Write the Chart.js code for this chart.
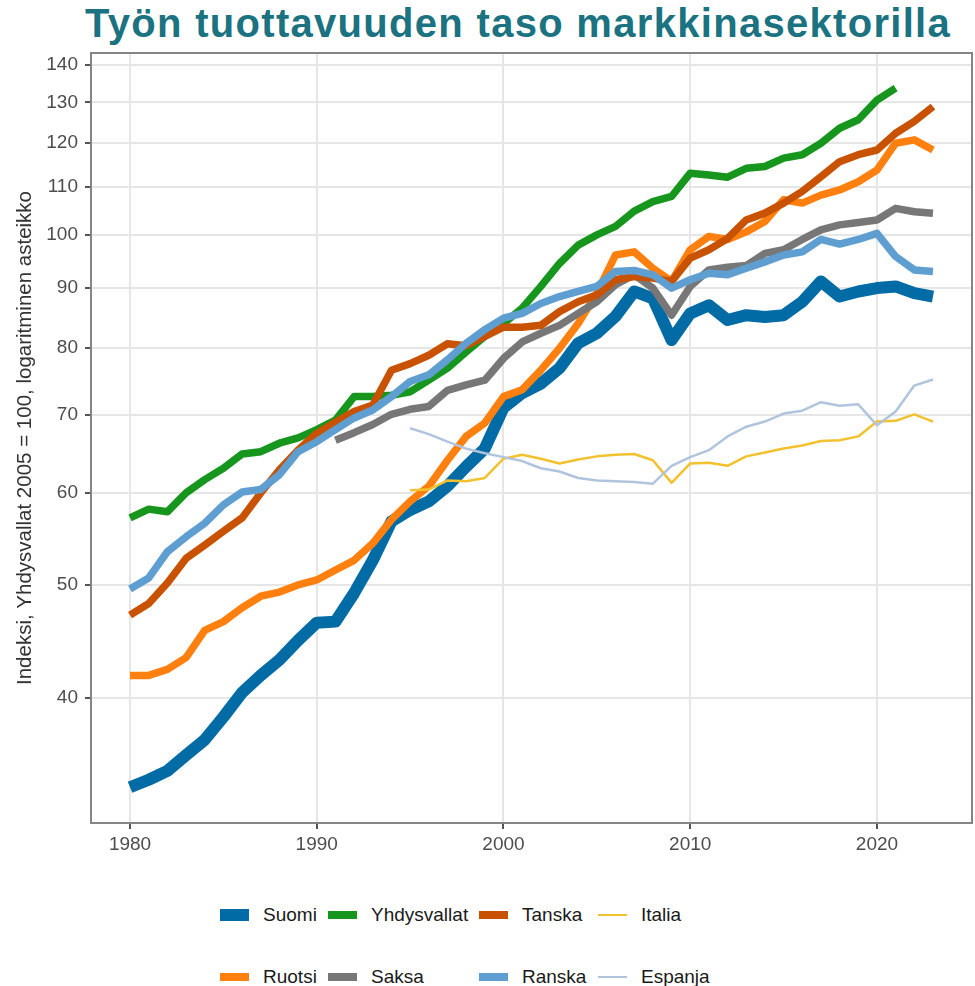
<!DOCTYPE html>
<html lang="fi">
<head>
<meta charset="utf-8">
<title>Työn tuottavuuden taso markkinasektorilla</title>
<script src="https://cdn.jsdelivr.net/npm/chart.js@4.4.1/dist/chart.umd.min.js"></script>
<style>
  html, body { margin: 0; padding: 0; background: #fff; }
  body {
    width: 975px;
    height: 986px;
    position: relative;
    overflow: hidden;
    font-family: "Liberation Sans", Arial, sans-serif;
  }
  #title {
    position: absolute;
    left: 85px;
    top: 3px;
    margin: 0;
    font-size: 40px;
    line-height: 40px;
    font-weight: bold;
    color: #1b7281;
    letter-spacing: 1.3px;
    white-space: nowrap;
  }
  #chartWrap { position: absolute; left: 0; top: 0; width: 975px; height: 880px; }
  .legend-item {
    position: absolute;
    height: 24px;
    display: flex;
    align-items: center;
    font-size: 19px;
    color: #1a1a1a;
    white-space: nowrap;
  }
  .legend-key { width: 29px; margin-right: 14px; }
</style>
</head>
<body>
<h1 id="title">Työn tuottavuuden taso markkinasektorilla</h1>
<div id="chartWrap"><canvas id="prodChart"></canvas></div>
<div id="legend"></div>

<script>
const years = [
  1980, 1981, 1982, 1983, 1984, 1985, 1986, 1987, 1988, 1989,
  1990, 1991, 1992, 1993, 1994, 1995, 1996, 1997, 1998, 1999,
  2000, 2001, 2002, 2003, 2004, 2005, 2006, 2007, 2008, 2009,
  2010, 2011, 2012, 2013, 2014, 2015, 2016, 2017, 2018, 2019,
  2020, 2021, 2022, 2023,
];

const suomi = [
  33.5, 34.0, 34.6, 35.7, 36.8, 38.5, 40.4, 41.8, 43.1, 44.8,
  46.4, 46.5, 49.2, 52.5, 56.7, 58.0, 59.0, 60.8, 63.2, 65.5,
  71.0, 73.1, 74.5, 76.8, 80.7, 82.3, 85.1, 89.4, 88.2, 81.2,
  85.6, 87.0, 84.5, 85.3, 85.0, 85.3, 87.6, 91.2, 88.5, 89.4,
  90.0, 90.3, 89.1, 88.5,
];

const ruotsi = [
  41.8, 41.8, 42.3, 43.3, 45.7, 46.5, 47.8, 48.9, 49.3, 50.0,
  50.5, 51.5, 52.5, 54.3, 56.9, 59.0, 60.8, 64.0, 67.1, 68.9,
  72.6, 73.6, 76.5, 79.9, 83.9, 89.1, 96.1, 96.7, 93.6, 91.2,
  97.1, 99.7, 99.1, 100.6, 102.7, 107.2, 106.5, 108.2, 109.3, 111.1,
  113.7, 119.9, 120.7, 118.3,
];

const yhdysvallat = [
  57.1, 58.1, 57.8, 60.0, 61.6, 63.0, 64.8, 65.1, 66.2, 66.9,
  68.0, 69.3, 72.6, 72.6, 72.8, 73.3, 75.0, 76.8, 79.3, 81.8,
  83.9, 86.5, 90.3, 94.5, 98.0, 100.0, 101.7, 104.8, 106.8, 107.9,
  113.0, 112.6, 112.1, 114.1, 114.5, 116.4, 117.2, 119.9, 123.5, 125.6,
  130.6, 133.7, null, null,
];

const saksa = [
  null, null, null, null, null, null, null, null, null, null,
  null, 66.6, 67.6, 68.7, 70.1, 70.8, 71.2, 73.5, 74.3, 75.0,
  78.3, 80.9, 82.3, 83.6, 85.6, 87.6, 90.6, 92.4, 90.0, 85.3,
  90.3, 93.3, 93.8, 94.1, 96.4, 97.1, 99.1, 101.0, 102.0, 102.5,
  103.0, 105.4, 104.7, 104.4,
];

const tanska = [
  47.1, 48.2, 50.2, 52.7, 54.1, 55.6, 57.1, 60.0, 62.8, 65.3,
  67.5, 69.0, 70.5, 71.4, 76.5, 77.5, 78.8, 80.6, 80.3, 81.8,
  83.3, 83.3, 83.6, 85.9, 87.6, 88.8, 91.5, 92.1, 91.8, 91.2,
  95.5, 97.1, 99.3, 103.0, 104.4, 106.5, 109.0, 112.2, 115.6, 117.2,
  118.3, 122.3, 125.2, 128.9,
];

const ranska = [
  49.6, 50.7, 53.4, 55.0, 56.5, 58.6, 60.1, 60.4, 62.2, 65.1,
  66.4, 68.0, 69.6, 70.7, 72.6, 74.8, 75.8, 78.1, 80.7, 82.9,
  84.8, 85.6, 87.3, 88.5, 89.4, 90.3, 93.0, 93.2, 92.4, 90.0,
  91.5, 92.7, 92.4, 93.6, 94.8, 96.1, 96.7, 99.1, 98.2, 99.1,
  100.3, 95.8, 93.3, 93.0,
];

const italia = [
  null, null, null, null, null, null, null, null, null, null,
  null, null, null, null, null, 60.3, 60.4, 61.5, 61.4, 61.8,
  64.2, 64.7, 64.2, 63.6, 64.1, 64.5, 64.7, 64.8, 64.0, 61.2,
  63.6, 63.7, 63.3, 64.5, 65.0, 65.5, 65.9, 66.5, 66.6, 67.1,
  69.1, 69.2, 70.1, 69.1,
];

const espanja = [
  null, null, null, null, null, null, null, null, null, null,
  null, null, null, null, null, 68.2, 67.4, 66.4, 65.5, 64.9,
  64.4, 63.9, 63.0, 62.6, 61.8, 61.5, 61.4, 61.3, 61.1, 63.3,
  64.4, 65.3, 67.1, 68.4, 69.1, 70.2, 70.6, 71.8, 71.3, 71.5,
  68.6, 70.5, 74.2, 75.1,
];

const xTicks = [1980, 1990, 2000, 2010, 2020];
const yTicks = [40, 50, 60, 70, 80, 90, 100, 110, 120, 130, 140];
const yTitle = "Indeksi, Yhdysvallat 2005 = 100, logaritminen asteikko";

// legend order is row by row; "order" = drawing order (lower is on top)
const series = [
  { label: "Suomi", data: suomi, color: "#006BA4", width: 12, order: 8 },
  { label: "Yhdysvallat", data: yhdysvallat, color: "#16961c", width: 7.5, order: 6 },
  { label: "Tanska", data: tanska, color: "#C85200", width: 7.5, order: 4 },
  { label: "Italia", data: italia, color: "#F2C12E", width: 2.5, order: 2 },
  { label: "Ruotsi", data: ruotsi, color: "#FF800E", width: 7.5, order: 7 },
  { label: "Saksa", data: saksa, color: "#777777", width: 7.5, order: 5 },
  { label: "Ranska", data: ranska, color: "#5F9ED1", width: 7.5, order: 3 },
  { label: "Espanja", data: espanja, color: "#B0C4DE", width: 2.5, order: 1 },
];

const toPoints = (vals) =>
  years
    .map((yr, i) => ({ x: yr, y: vals[i] }))
    .filter((p) => p.y !== null);

const fontFamily = "'Liberation Sans', Arial, sans-serif";
const tickFont = { family: fontFamily, size: 19 };

// ── Panel border (all four sides) ─────────────────────────
const panelBorder = {
  id: "panelBorder",
  afterDraw(chart) {
    const { ctx: c, chartArea: a } = chart;
    c.save();
    c.strokeStyle = "#858585";
    c.lineWidth = 2;
    c.strokeRect(a.left, a.top, a.right - a.left, a.bottom - a.top);
    c.restore();
  },
};

const canvas = document.getElementById("prodChart");

const chart = new Chart(canvas, {
  type: "line",
  data: {
    datasets: series.map((s) => ({
      label: s.label,
      data: toPoints(s.data),
      borderColor: s.color,
      backgroundColor: s.color,
      borderWidth: s.width,
      borderJoinStyle: "round",
      borderCapStyle: "butt",
      pointRadius: 0,
      pointHoverRadius: 0,
      tension: 0,
      fill: false,
      order: s.order,
    })),
  },
  options: {
    responsive: true,
    maintainAspectRatio: false,
    animation: false,
    layout: { padding: { top: 53, right: 3, bottom: 0, left: 0 } },
    plugins: {
      legend: { display: false },
      tooltip: { enabled: false },
      title: { display: false },
    },
    scales: {
      x: {
        type: "linear",
        min: 1977.91,
        max: 2025.09,
        afterBuildTicks: (s) => {
          s.ticks = xTicks.map((v) => ({ value: v }));
        },
        afterFit: (s) => {
          s.height = 57;
        },
        grid: {
          color: "#e6e6e6",
          lineWidth: 2,
          tickColor: "#555555",
          tickLength: 6,
          tickWidth: 2,
        },
        border: { display: false },
        ticks: {
          font: tickFont,
          color: "#4d4d4d",
          padding: 4,
          maxRotation: 0,
          callback: (v) => String(v),
        },
      },
      y: {
        type: "logarithmic",
        min: 31.21,
        max: 143.35,
        afterBuildTicks: (s) => {
          s.ticks = yTicks.map((v) => ({ value: v }));
        },
        afterFit: (s) => {
          s.width = 91;
        },
        grid: {
          color: "#e6e6e6",
          lineWidth: 2,
          tickColor: "#555555",
          tickLength: 6,
          tickWidth: 2,
        },
        border: { display: false },
        ticks: {
          font: tickFont,
          color: "#4d4d4d",
          padding: 7,
          callback: (v) => String(v),
        },
        title: {
          display: true,
          text: yTitle,
          color: "#333333",
          font: { family: fontFamily, size: 20.5 },
          padding: { top: 13, bottom: 0 },
        },
      },
    },
  },
  plugins: [panelBorder],
});

// ── HTML legend, built from the chart's datasets ──────────
const legendCols = [220, 328, 479, 598];
const legendRows = [915, 977];
const legendEl = document.getElementById("legend");

chart.data.datasets.forEach((ds, i) => {
  const item = document.createElement("div");
  item.className = "legend-item";
  item.style.left = `${legendCols[i % 4]}px`;
  item.style.top = `${legendRows[Math.floor(i / 4)] - 12}px`;

  const key = document.createElement("span");
  key.className = "legend-key";
  key.style.height = `${ds.borderWidth}px`;
  key.style.background = ds.borderColor;

  const txt = document.createElement("span");
  txt.textContent = ds.label;

  item.appendChild(key);
  item.appendChild(txt);
  legendEl.appendChild(item);
});
</script>
</body>
</html>
